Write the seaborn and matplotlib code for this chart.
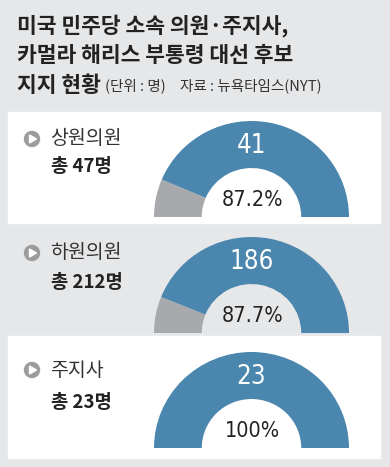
import matplotlib
matplotlib.use('Agg')
import matplotlib.pyplot as plt
from matplotlib.patches import Rectangle, Circle, Polygon
import seaborn as sns

# 데이터
groups = ['상원의원', '하원의원', '주지사']
totals = [47, 212, 23]
supporters = [41, 186, 23]

title_lines = ['미국 민주당 소속 의원·주지사,', '카멀라 해리스 부통령 대선 후보', '지지 현황']
unit_note = '(단위 : 명)'
source_note = '자료 : 뉴욕타임스(NYT)'

# 스타일
sns.set_theme(style='white')
plt.rcParams['font.family'] = ['Noto Sans CJK KR', 'DejaVu Sans']
NUM_FONT = ['DejaVu Sans']

bg_color = '#e6e7e9'
blue, gray = sns.color_palette(['#4a86ad', '#a8a9ac'])
text_color = '#222222'

W, H = 390, 467
fig = plt.figure(figsize=(W / 100, H / 100), dpi=100, facecolor=bg_color)
bgax = fig.add_axes([0, 0, 1, 1])
bgax.set_xlim(0, W)
bgax.set_ylim(H, 0)
bgax.axis('off')

# 제목
for i, line in enumerate(title_lines):
    bgax.text(17, 26 + i * 30, line, fontsize=15.5, fontweight='heavy',
              color=text_color, va='center')
bgax.text(105, 86, unit_note, fontsize=10.5, color='#333333', va='center')
bgax.text(180, 86, source_note, fontsize=10.5, color='#333333', va='center')

# 패널 배치 (픽셀)
panel_box = [(112, 223), None, (336, 458)]
donut_bottom = [217, 333, 448]
label_y = [139, 253, 370]
total_y = [167, 283, 402]

for i, (grp, tot, dem) in enumerate(zip(groups, totals, supporters)):
    if panel_box[i] is not None:
        top, bot = panel_box[i]
        bgax.add_patch(Rectangle((8, top), 372, bot - top, color='white', zorder=0))

    # 아이콘 + 라벨
    y = label_y[i]
    bgax.add_patch(Circle((32, y), 7.5, color='#9c9c9c', zorder=2))
    bgax.add_patch(Polygon([(29.5, y - 4), (29.5, y + 4), (36.5, y)],
                           closed=True, color='white', zorder=3))
    bgax.text(50, y, grp, fontsize=14, color='#333333', va='center')
    bgax.text(51, total_y[i], f'총 {tot}명', fontsize=13.5, fontweight='bold',
              color=text_color, va='center')

    # 반원 도넛
    b = donut_bottom[i]
    ax = fig.add_axes([154 / W, (H - b) / H, 195 / W, 96 / H])
    ax.pie([tot - dem, dem, tot], startangle=180, counterclock=False,
           colors=[gray, blue, 'none'], radius=1,
           wedgeprops=dict(width=0.49, linewidth=0))
    ax.set_xlim(-1, 1)
    ax.set_ylim(0, 1)
    ax.set_aspect('auto')
    ax.axis('off')

    pct = dem / tot * 100
    pct_label = f'{pct:.1f}%'.replace('.0%', '%')
    ax.text(0, 0.74, str(dem), fontsize=18.5, color='white', ha='center',
            va='center', family=NUM_FONT, fontstretch='condensed')
    ax.text(0.01, 0.18, pct_label, fontsize=15.5, color=text_color, ha='center',
            va='center', family=NUM_FONT, fontstretch='condensed')

fig.savefig('out.png', dpi=100, facecolor=bg_color)
